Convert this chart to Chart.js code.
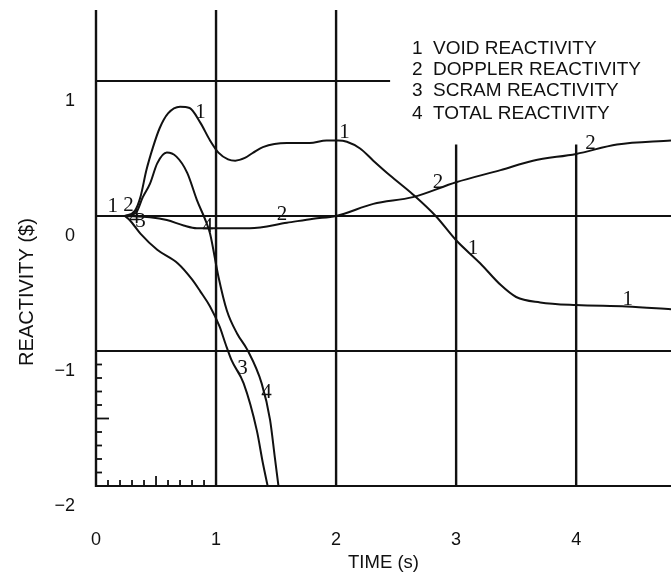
<!DOCTYPE html>
<html>
<head>
<meta charset="utf-8">
<title>Reactivity vs time</title>
<script src="https://cdn.jsdelivr.net/npm/chart.js@4.4.1/dist/chart.umd.min.js"></script>
<style>
  html, body { margin: 0; padding: 0; background: #fff; }
  canvas { display: block; }
</style>
</head>
<body>
<canvas id="chart-reactivity" width="671" height="575"></canvas>
<script>
const seriesNames = ["VOID REACTIVITY", "DOPPLER REACTIVITY", "SCRAM REACTIVITY", "TOTAL REACTIVITY"];

const voidTime = [0.24, 0.325, 0.37, 0.42, 0.475, 0.53, 0.60, 0.70, 0.78, 0.87, 0.95, 1.02, 1.10, 1.16, 1.24, 1.31, 1.39, 1.59, 1.78, 1.92, 2.02, 2.09, 2.20, 2.31, 2.45, 2.64, 2.83, 3.00, 3.20, 3.37, 3.50, 3.70, 4.00, 4.42, 4.79];
const voidValue = [0.00, 0.04, 0.14, 0.34, 0.51, 0.65, 0.76, 0.81, 0.80, 0.69, 0.56, 0.47, 0.42, 0.41, 0.43, 0.47, 0.51, 0.54, 0.54, 0.56, 0.56, 0.55, 0.50, 0.41, 0.30, 0.16, 0.00, -0.18, -0.35, -0.51, -0.60, -0.64, -0.66, -0.67, -0.69];

const dopplerTime = [0.24, 0.45, 0.59, 0.73, 0.84, 1.03, 1.28, 1.59, 1.81, 2.00, 2.31, 2.64, 3.00, 3.37, 3.64, 4.00, 4.34, 4.79];
const dopplerValue = [0.00, -0.01, -0.03, -0.07, -0.09, -0.09, -0.09, -0.05, -0.02, 0.00, 0.09, 0.14, 0.25, 0.34, 0.41, 0.46, 0.53, 0.56];

const scramTime = [0.24, 0.28, 0.37, 0.51, 0.68, 0.80, 0.87, 0.95, 1.03, 1.08, 1.13, 1.23, 1.34, 1.39, 1.43];
const scramValue = [0.00, -0.03, -0.13, -0.25, -0.35, -0.47, -0.56, -0.67, -0.82, -0.95, -1.07, -1.24, -1.59, -1.83, -2.00];

const totalTime = [0.24, 0.33, 0.39, 0.45, 0.51, 0.59, 0.67, 0.76, 0.84, 0.92, 0.95, 1.02, 1.09, 1.175, 1.26, 1.38, 1.45, 1.49, 1.52];
const totalValue = [0.00, 0.02, 0.14, 0.24, 0.39, 0.47, 0.44, 0.32, 0.12, -0.05, -0.13, -0.45, -0.70, -0.87, -0.99, -1.24, -1.51, -1.79, -2.00];

const xTickValues = [0, 1, 2, 3, 4];
const yTickValues = [1, 0, -1, -2];
const xTitle = "TIME (s)";
const yTitle = "REACTIVITY ($)";

// curve numbers written on the plot: [curve number, time, reactivity]
const curveMarks = [
  [1, 0.14, 0.07], [2, 0.27, 0.08], [4, 0.32, -0.01], [3, 0.37, -0.04],
  [1, 0.87, 0.77], [1, 2.07, 0.62], [1, 3.14, -0.24], [1, 4.43, -0.62],
  [2, 1.55, 0.01], [2, 2.85, 0.25], [2, 4.12, 0.54],
  [3, 1.22, -1.13],
  [4, 0.93, -0.08], [4, 1.42, -1.31],
];

const ink = "#111";
const sans = "'Liberation Sans', Arial, sans-serif";

const toPoints = (ts, vs) => ts.map((t, i) => ({ x: t, y: vs[i] }));

// the grid of the scanned figure: some lines stop short
const gridPlugin = {
  id: "grid",
  beforeDatasetsDraw(chart) {
    const { ctx } = chart;
    const { x, y } = chart.scales;
    const line = (x0, y0, x1, y1, w) => {
      ctx.lineWidth = w;
      ctx.beginPath();
      ctx.moveTo(x0, y0);
      ctx.lineTo(x1, y1);
      ctx.stroke();
    };
    ctx.save();
    ctx.strokeStyle = ink;
    const verticals = [[0, y.max], [1, y.max], [2, y.max], [3, 0.53], [4, 0.53]];
    verticals.forEach(([t, top]) => {
      const px = x.getPixelForValue(t);
      line(px, y.getPixelForValue(top), px, y.getPixelForValue(y.min) + 1, 2.4);
    });
    const horizontals = [[-2, x.max], [-1, x.max], [0, x.max], [1, 2.45]];
    horizontals.forEach(([v, end]) => {
      const py = y.getPixelForValue(v);
      line(x.getPixelForValue(0) - 1, py, x.getPixelForValue(end), py, 2.2);
    });
    // small ticks along the bottom and left edges
    const x0 = x.getPixelForValue(0);
    const yb = y.getPixelForValue(y.min);
    for (let i = 1; i < 10; i++) {
      const px = x.getPixelForValue(i / 10);
      line(px, yb, px, yb - (i === 5 ? 10 : 6), 1.8);
      const py = y.getPixelForValue(-1 - i / 10);
      line(x0, py, x0 + (i === 5 ? 13 : 6), py, 1.8);
    }
    ctx.restore();
  },
  afterDatasetsDraw(chart) {
    const { ctx } = chart;
    const { x, y } = chart.scales;
    ctx.save();
    ctx.fillStyle = ink;
    ctx.font = "21px 'Liberation Serif', serif";
    ctx.textAlign = "center";
    ctx.textBaseline = "middle";
    curveMarks.forEach(([n, t, v]) => {
      ctx.fillText(String(n), x.getPixelForValue(t), y.getPixelForValue(v));
    });

    // legend text block
    ctx.font = "19px " + sans;
    ctx.textAlign = "left";
    ctx.textBaseline = "alphabetic";
    const baselines = [54, 75, 96, 119];
    chart.data.datasets.forEach((ds, i) => {
      ctx.fillText(String(i + 1), 412, baselines[i]);
      ctx.fillText(ds.label, 433, baselines[i]);
    });

    // y axis title
    ctx.font = "20px " + sans;
    ctx.textAlign = "center";
    ctx.textBaseline = "middle";
    ctx.translate(27, 292);
    ctx.rotate(-Math.PI / 2);
    ctx.fillText(yTitle, 0, 0);
    ctx.restore();
  },
};

const canvas = document.getElementById("chart-reactivity");
new Chart(canvas, {
  type: "line",
  data: {
    datasets: [
      { label: seriesNames[0], data: toPoints(voidTime, voidValue) },
      { label: seriesNames[1], data: toPoints(dopplerTime, dopplerValue) },
      { label: seriesNames[2], data: toPoints(scramTime, scramValue) },
      { label: seriesNames[3], data: toPoints(totalTime, totalValue) },
    ],
  },
  options: {
    responsive: false,
    animation: false,
    layout: { padding: { top: 10, left: 0, right: 0, bottom: 0 } },
    elements: {
      point: { radius: 0 },
      line: { borderWidth: 2, borderColor: ink, cubicInterpolationMode: "monotone", fill: false },
    },
    plugins: {
      legend: { display: false },
      tooltip: { enabled: false },
    },
    scales: {
      x: {
        type: "linear",
        min: 0,
        max: 4.79,
        grid: { display: false },
        border: { display: false },
        afterBuildTicks: (s) => { s.ticks = xTickValues.map((v) => ({ value: v })); },
        afterFit: (s) => { s.height = 89; s.paddingLeft = 0; s.paddingRight = 0; },
        ticks: {
          padding: 35,
          autoSkip: false,
          maxRotation: 0,
          color: ink,
          font: { family: sans, size: 18 },
        },
        title: {
          display: true,
          text: xTitle,
          color: ink,
          font: { family: sans, size: 18.5 },
          padding: { top: 0, bottom: 1 },
        },
      },
      y: {
        type: "linear",
        min: -2,
        max: 1.526,
        grid: { display: false },
        border: { display: false },
        afterBuildTicks: (s) => { s.ticks = yTickValues.map((v) => ({ value: v })); },
        afterFit: (s) => { s.width = 96; s.paddingTop = 0; s.paddingBottom = 0; },
        ticks: {
          padding: 13,
          labelOffset: 20,
          autoSkip: false,
          color: ink,
          font: { family: sans, size: 18 },
          callback: (v) => (v < 0 ? "\u2212" + Math.abs(v) : String(v)),
        },
      },
    },
  },
  plugins: [gridPlugin],
});
</script>
</body>
</html>
